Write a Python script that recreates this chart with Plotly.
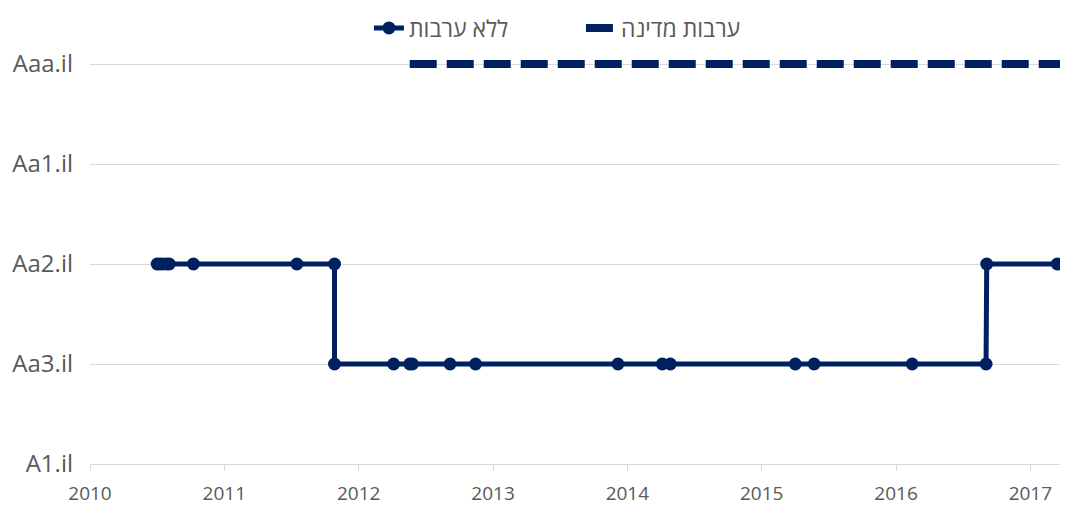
import plotly.graph_objects as go

rating_labels = ["A1.il", "Aa3.il", "Aa2.il", "Aa1.il", "Aaa.il"]
rating_values = [0, 1, 2, 3, 4]

# Series without guarantee (x in decimal years, y as rating level index)
no_guar_x = [2010.50, 2010.52, 2010.54, 2010.57, 2010.59, 2010.77, 2011.54, 2011.82,
             2011.82, 2012.26, 2012.38, 2012.40, 2012.68, 2012.87, 2013.93, 2014.26,
             2014.32, 2015.25, 2015.39, 2016.12, 2016.67, 2016.675, 2017.20]
no_guar_y = [2, 2, 2, 2, 2, 2, 2, 2,
             1, 1, 1, 1, 1, 1, 1, 1,
             1, 1, 1, 1, 1, 2, 2]

# State guarantee series
state_x = [2012.38, 2017.30]
state_y = [4, 4]

year_ticks = [2010, 2011, 2012, 2013, 2014, 2015, 2016, 2017]

navy = "#002060"
gray = "#595959"

fig = go.Figure()
fig.add_trace(go.Scatter(
    x=no_guar_x, y=no_guar_y, mode="lines+markers", name="ללא ערבות",
    line=dict(color=navy, width=5), marker=dict(color=navy, size=13),
    cliponaxis=False,
))
fig.add_trace(go.Scatter(
    x=state_x, y=state_y, mode="lines", name="ערבות מדינה",
    line=dict(color=navy, width=8, dash="27px,10px"),
))

fig.update_layout(
    width=1060, height=499,
    margin=dict(l=82, r=0, t=0, b=43, autoexpand=False),
    paper_bgcolor="white", plot_bgcolor="white",
    font=dict(family="Open Sans", color=gray),
    showlegend=True,
    legend=dict(orientation="h", x=0.502, xanchor="center", y=1 - 20 / 456, yanchor="middle",
                font=dict(size=23, color=gray), bgcolor="rgba(0,0,0,0)",
                entrywidth=167, entrywidthmode="pixels"),
    xaxis=dict(
        range=[2010, 2017.28], tickvals=year_ticks, ticktext=[str(y) for y in year_ticks],
        showgrid=False, zeroline=False, showline=True, linecolor="#d9d9d9", linewidth=1,
        ticks="outside", ticklen=6, tickcolor="#d9d9d9", tickfont=dict(size=19, color=gray),
        ticklabelstandoff=6, automargin=False,
    ),
    yaxis=dict(
        range=[0, 4.56], tickvals=rating_values, ticktext=rating_labels,
        showgrid=True, gridcolor="#d9d9d9", gridwidth=1, zeroline=False, showline=False,
        ticks="", ticklabelstandoff=16,
        tickfont=dict(size=24, color=gray), automargin=False,
    ),
)

fig.write_html("out.html")
